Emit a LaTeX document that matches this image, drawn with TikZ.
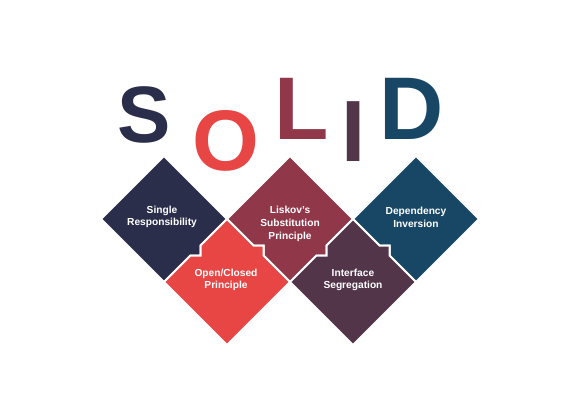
\documentclass[tikz,border=0pt]{standalone}
\usepackage{fontspec}
\setmainfont{Liberation Sans}
\usepackage{xcolor}
\usepackage{tikz}

\definecolor{srcol}{HTML}{2B2E4A}
\definecolor{ocpcol}{HTML}{E84545}
\definecolor{lspcol}{HTML}{903749}
\definecolor{ispcol}{HTML}{53354A}
\definecolor{dipcol}{HTML}{184766}

\begin{document}
\begin{tikzpicture}[
  x=1pt, y=-1pt,
  piece/.style={draw=white, line width=2pt, line join=miter},
  boxtext/.style={text=white, align=center, inner sep=0pt,
    font=\bfseries\fontsize{10.2}{12.7}\selectfont},
  letter/.style={inner sep=0pt, outer sep=0pt}
]
  \useasboundingbox (0,0) rectangle (580,410);

  % upper row
  \draw[piece, fill=srcol, shift={(164,219)}]
    (0,-63) -- (63,0) -- (36.5,26.5) -- (36.5,36.5) -- (26.5,36.5)
    -- (0,63) -- (-63,0) -- cycle;
  \draw[piece, fill=lspcol, shift={(290,219)}]
    (0,-63) -- (63,0) -- (36.5,26.5) -- (36.5,36.5) -- (26.5,36.5)
    -- (0,63) -- (-26.5,36.5) -- (-26.5,26.5) -- (-36.5,26.5)
    -- (-63,0) -- cycle;
  \draw[piece, fill=dipcol, shift={(416,219)}]
    (0,-63) -- (63,0) -- (0,63) -- (-26.5,36.5) -- (-26.5,26.5)
    -- (-36.5,26.5) -- (-63,0) -- cycle;

  % lower row
  \foreach \cx/\col in {227/ocpcol, 353/ispcol}
    \draw[piece, fill=\col, shift={(\cx,282)}]
      (-63,0) -- (-36.5,-26.5) -- (-26.5,-26.5) -- (-26.5,-36.5)
      -- (0,-63) -- (26.5,-36.5) -- (36.5,-36.5) -- (36.5,-26.5)
      -- (63,0) -- (0,63) -- cycle;

  % big letters
  \node[letter, text=srcol, font=\bfseries\fontsize{80}{80}\selectfont] (S) at (144.5,115) {S};
  \node[letter, text=ocpcol, font=\bfseries\fontsize{86}{86}\selectfont] (O) at (226,140.5) {O};
  \node[letter, text=lspcol, font=\bfseries\fontsize{89}{89}\selectfont] (L) at (301.5,109) {L};
  \node[letter, text=ispcol, font=\bfseries\fontsize{87}{87}\selectfont] (I) at (353.5,132) {I};
  \node[letter, text=dipcol, font=\bfseries\fontsize{89}{89}\selectfont] (D) at (412,109) {D};

  % principles
  \node[boxtext] (sr) at (162,217) {Single\\Responsibility};
  \node[boxtext] (lsp) at (290,224) {Liskov's\\Substitution\\Principle};
  \node[boxtext] (di) at (416,217) {Dependency\\Inversion};
  \node[boxtext] (ocp) at (226,280) {Open/Closed\\Principle};
  \node[boxtext] (isp) at (353,280) {Interface\\Segregation};
\end{tikzpicture}
\end{document}
